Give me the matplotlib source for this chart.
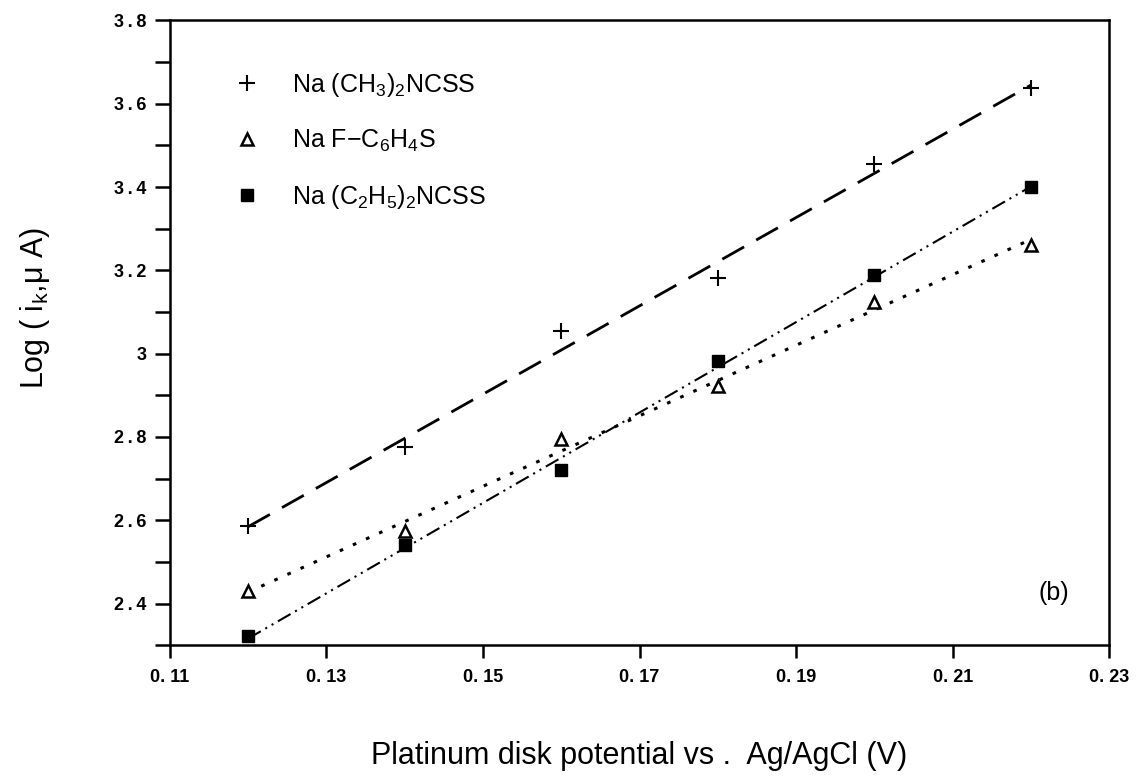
import numpy as np
import matplotlib
matplotlib.use('Agg')
import matplotlib.pyplot as plt
from matplotlib.ticker import MultipleLocator, FixedLocator

plt.rcParams['font.family'] = ['Liberation Sans', 'DejaVu Sans']
plt.rcParams['mathtext.default'] = 'regular'

# --- Data
potential = [0.12, 0.14, 0.16, 0.18, 0.20, 0.22]
dimethyl = [2.586, 2.775, 3.054, 3.181, 3.455, 3.637]     # Na (CH3)2NCSS
fluoro = [2.430, 2.574, 2.795, 2.922, 3.124, 3.260]       # Na F-C6H4S
diethyl = [2.322, 2.540, 2.720, 2.982, 3.188, 3.400]      # Na (C2H5)2NCSS

labels = [r'Na (CH$_3$)$_2$NCSS', r'Na F$-$C$_6$H$_4$S', r'Na (C$_2$H$_5$)$_2$NCSS']

x_major = [0.11, 0.13, 0.15, 0.17, 0.19, 0.21, 0.23]
y_major = [2.4, 2.6, 2.8, 3.0, 3.2, 3.4, 3.6, 3.8]

fig = plt.figure(figsize=(11.4, 7.84), dpi=100)
ax = fig.add_axes([0.149, 0.177, 0.824, 0.797])

x = np.array(potential)
styles = [
  (dimethyl, dict(marker='+', ms=12, mew=1.5, mfc='k', mec='k'), dict(ls=(0, (9, 5)), lw=2.0)),
  (fluoro, dict(marker='^', ms=8, mew=1.8, mfc='white', mec='k'), dict(ls=(0, (1.2, 3.5)), lw=2.2)),
  (diethyl, dict(marker='s', ms=9, mew=1, mfc='k', mec='k'), dict(ls=(0, (7, 2.5, 1, 2.5, 1, 2.5)), lw=1.5)),
]

handles = []
for (yv, mk, ln), lab in zip(styles, labels):
  # linear regression line through each series
  k, b = np.polyfit(x, yv, 1)
  ax.plot(x, k * x + b, color='k', zorder=2, **ln)
  h, = ax.plot(x, yv, ls='none', zorder=3, label=lab, **mk)
  handles.append(h)

ax.legend(handles=handles, loc='upper left', bbox_to_anchor=(0.045, 0.955), frameon=False,
          fontsize=18, handletextpad=1.3, labelspacing=1.15, handlelength=1.0, markerscale=1.0)

ax.set_xlim(0.11, 0.23)
ax.set_ylim(2.3, 3.8)
ax.xaxis.set_major_locator(FixedLocator(x_major))
ax.xaxis.set_minor_locator(MultipleLocator(0.02, offset=0.01))
ax.yaxis.set_major_locator(FixedLocator(y_major))
ax.yaxis.set_minor_locator(MultipleLocator(0.1))

ax.set_xticklabels([('%.2f' % v).replace('.', '. ') for v in x_major], fontsize=13, fontweight='bold')
ax.set_yticklabels(['3' if v == 3.0 else ('%.1f' % v).replace('.', '\u2009.\u2009') for v in y_major],
                   fontsize=13, fontweight='bold')

ax.tick_params(which='both', direction='out', length=11, width=1.8, top=False, right=False)
ax.tick_params(axis='x', length=9, pad=8)
ax.tick_params(axis='x', which='minor', length=9)
ax.tick_params(axis='y', pad=6)
for s in ax.spines.values():
  s.set_linewidth(1.8)

ax.set_xlabel('Platinum disk potential vs .  Ag/AgCl (V)', fontsize=22, labelpad=40)
ax.set_ylabel(r'Log ( i$_k$,$\mu$ A)', fontsize=22)
ax.yaxis.set_label_coords(-0.125, 0.54)

ax.text(0.957, 0.083, '(b)', transform=ax.transAxes, fontsize=18, ha='right', va='center')

plt.savefig('out.png', dpi=100)
